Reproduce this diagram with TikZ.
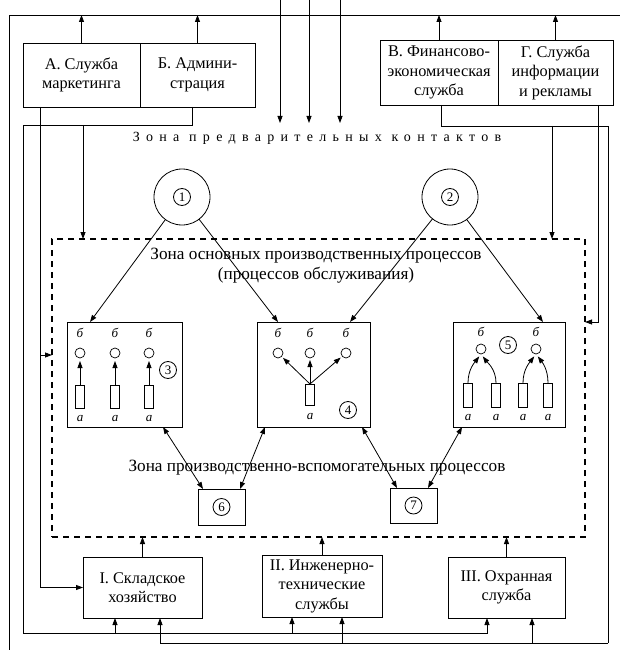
\documentclass[tikz,border=0pt]{standalone}
\usepackage{fontspec}
\setmainfont{Liberation Serif}
\usetikzlibrary{arrows.meta}
\begin{document}
\begin{tikzpicture}[x=1pt,y=-1pt,
  every node/.style={inner sep=0pt, outer sep=0pt},
  box/.style={draw, line width=0.9pt, align=center, font=\fontsize{16.3}{19.5}\selectfont},
  arr/.style={-{Triangle[length=7pt,width=5pt]}, line width=0.8pt},
  darr/.style={{Triangle[length=7pt,width=5pt]}-{Triangle[length=7pt,width=5pt]}, line width=0.8pt},
  bus/.style={line width=0.9pt},
  num/.style={draw, circle, line width=0.8pt, minimum size=17pt, font=\fontsize{13}{13}\selectfont},
  big/.style={draw, circle, line width=0.8pt, minimum size=56pt},
  pbox/.style={draw, line width=0.9pt},
  dot/.style={draw, circle, line width=0.7pt, minimum size=10pt},
  bar/.style={draw, line width=0.7pt, minimum width=9pt},
  lab/.style={font=\fontsize{13}{13}\selectfont\itshape},
  zone/.style={font=\fontsize{17.2}{20}\selectfont, align=center},
]
\useasboundingbox (0,0) rectangle (620,650);

% outer frame
\coordinate (OTR) at (620,15);
\coordinate (OTL) at (9,15);
\coordinate (OBL) at (9,650);
\draw[bus] (OTR) -- (OTL) -- (OBL);

% top boxes
\node[box, minimum width=117pt, minimum height=64pt] (A) at (81.5,75) {А. Служба\\маркетинга};
\node[box, minimum width=115pt, minimum height=64pt] (B) at (197.5,75) {Б. Админи-\\страция};
\node[box, minimum width=118pt, minimum height=65pt] (V) at (439,72.5) {В. Финансово-\\экономическая\\служба};
\node[box, minimum width=115pt, minimum height=65pt] (G) at (555.5,72.5) {Г. Служба\\информации\\и рекламы};

\foreach \n in {A,B,V,G} \draw[arr] (\n.north) -- (\n.north |- OTL);

% incoming arrows
\foreach \x [count=\i] in {280,309,340} {
  \coordinate (in\i) at (\x,0);
  \coordinate (inE\i) at (\x,123);
  \draw[arr] (in\i) -- (inE\i);
}

\node[font=\fontsize{14}{14}\selectfont\addfontfeature{LetterSpace=45}] (t1) at (317,138) {Зона предварительных контактов};

% dashed zone
\node[draw, line width=1.4pt, dash pattern=on 6pt off 5pt, minimum width=533pt, minimum height=298pt] (Z) at (318.5,388) {};
\node[zone] (t2) at (316,266) {Зона основных производственных процессов\\(процессов обслуживания)};
\node[zone] (t3) at (317,468) {Зона производственно-вспомогательных процессов};

% big circles
\node[big] (c1) at (182,197) {};
\node[num] (n1) at (c1) {1};
\node[big] (c2) at (450,197) {};
\node[num] (n2) at (c2) {2};

% process boxes
\node[pbox, minimum width=115pt, minimum height=105pt] (b3) at (124.5,374.5) {};
\node[pbox, minimum width=113pt, minimum height=105pt] (b4) at (313.5,374.5) {};
\node[pbox, minimum width=112pt, minimum height=105pt] (b5) at (509,374.5) {};
\node[pbox, minimum width=47pt, minimum height=36pt] (b6) at (221.5,507) {};
\node[num] (n6) at (b6) {6};
\node[pbox, minimum width=47pt, minimum height=35pt] (b7) at (413.5,505.5) {};
\node[num] (n7) at (b7) {7};

% box 3 content
\foreach \x [count=\i] in {80,115,149} {
  \node[lab] (b3b\i) at (\x,333) {б};
  \node[dot] (b3o\i) at (\x,353) {};
  \node[bar, minimum height=23pt] (b3r\i) at (\x,396.5) {};
  \node[lab] (b3a\i) at (\x,419) {а};
  \draw[arr, shorten >=3pt] (b3r\i) -- (b3o\i);
}
\node[num] (n3) at (168,370) {3};

% box 4 content
\foreach \x [count=\i] in {278,310,346} {
  \node[lab] (b4b\i) at (\x,333) {б};
  \node[dot] (b4o\i) at (\x,353) {};
}
\node[bar, minimum height=21pt] (b4r) at (310,394.5) {};
\node[lab] (b4a) at (310,417) {а};
\foreach \i in {1,2,3} \draw[arr, shorten >=2pt] (b4r.north) -- (b4o\i);
\node[num] (n4) at (348,410) {4};

% box 5 content
\foreach \x [count=\i] in {481,536} {
  \node[lab] (b5b\i) at (\x,332) {б};
  \node[dot] (b5o\i) at (\x,349) {};
}
\node[num] (n5) at (508,345) {5};
\foreach \x [count=\i] in {468,496,523,548} {
  \node[bar, minimum height=24pt] (b5r\i) at (\x,395) {};
  \node[lab] (b5a\i) at (\x,418) {а};
}
\draw[arr, shorten >=3pt] (b5r1.north) .. controls +(0,-14) and +(-6,8) .. (b5o1.south);
\draw[arr, shorten >=3pt] (b5r2.north) .. controls +(0,-14) and +(6,8) .. (b5o1.south);
\draw[arr, shorten >=3pt] (b5r3.north) .. controls +(0,-14) and +(-6,8) .. (b5o2.south);
\draw[arr, shorten >=3pt] (b5r4.north) .. controls +(0,-14) and +(6,8) .. (b5o2.south);

% circle arrows
\draw[arr] (c1) -- ([xshift=-34.5pt]b3.north);
\draw[arr] (c1) -- ([xshift=-35.5pt]b4.north);
\draw[arr] (c2) -- ([xshift=36.5pt]b4.north);
\draw[arr] (c2) -- ([xshift=34pt]b5.north);

% aux arrows
\draw[darr] ([xshift=38.5pt]b3.south) -- ([xshift=-18.5pt]b6.north);
\draw[darr] ([xshift=-48.5pt]b4.south) -- ([xshift=18.5pt]b6.north);
\draw[darr] ([xshift=48.5pt]b4.south) -- ([xshift=-16.5pt]b7.north);
\draw[darr] ([xshift=-47pt]b5.south) -- ([xshift=14.5pt]b7.north);

% bottom boxes
\node[box, minimum width=119pt, minimum height=61pt] (I) at (142.5,587.5) {I. Складское\\хозяйство};
\node[box, minimum width=120pt, minimum height=62pt] (II) at (322,586) {II. Инженерно-\\технические\\службы};
\node[box, minimum width=117pt, minimum height=61pt] (III) at (506.5,587.5) {III. Охранная\\служба};
\foreach \n in {I,II,III} \draw[arr] (\n.north) -- (\n.north |- Z.south);

% bus from Б
\coordinate (LT) at (23,125);
\coordinate (LB) at (23,633);
\coordinate (LBr) at (83,125);
\draw[bus] ([xshift=-5.5pt]B.south) |- (LT) -- (LB);
\draw[arr] (LB) -| ([xshift=-19.5pt]III.south);
\draw[arr] ([xshift=-27.5pt]I.south |- LB) -- ([xshift=-27.5pt]I.south);
\draw[arr] ([xshift=-30pt]II.south |- LB) -- ([xshift=-30pt]II.south);
\draw[arr] (LBr) -- (LBr |- Z.north);

% bus from В
\coordinate (RT) at (608,126);
\coordinate (RB) at (608,643);
\coordinate (RBr) at (552,126);
\draw[bus] ([xshift=2pt]V.south) |- (RT) -- (RB);
\draw[arr] (RB) -| ([xshift=17.5pt]I.south);
\draw[arr] ([xshift=20pt]II.south |- RB) -- ([xshift=20pt]II.south);
\draw[arr] ([xshift=25.5pt]III.south |- RB) -- ([xshift=25.5pt]III.south);
\draw[arr] (RBr) -- (RBr |- Z.north);

% A line
\coordinate (Abr) at (40,355);
\draw[arr] ([xshift=-41.5pt]A.south) |- (I.west);
\draw[arr] (Abr) -- (Abr -| Z.west);

% Г line
\coordinate (Gin) at (0,322);
\draw[arr] ([xshift=42.5pt]G.south) |- (Gin -| Z.east);
\end{tikzpicture}
\end{document}
